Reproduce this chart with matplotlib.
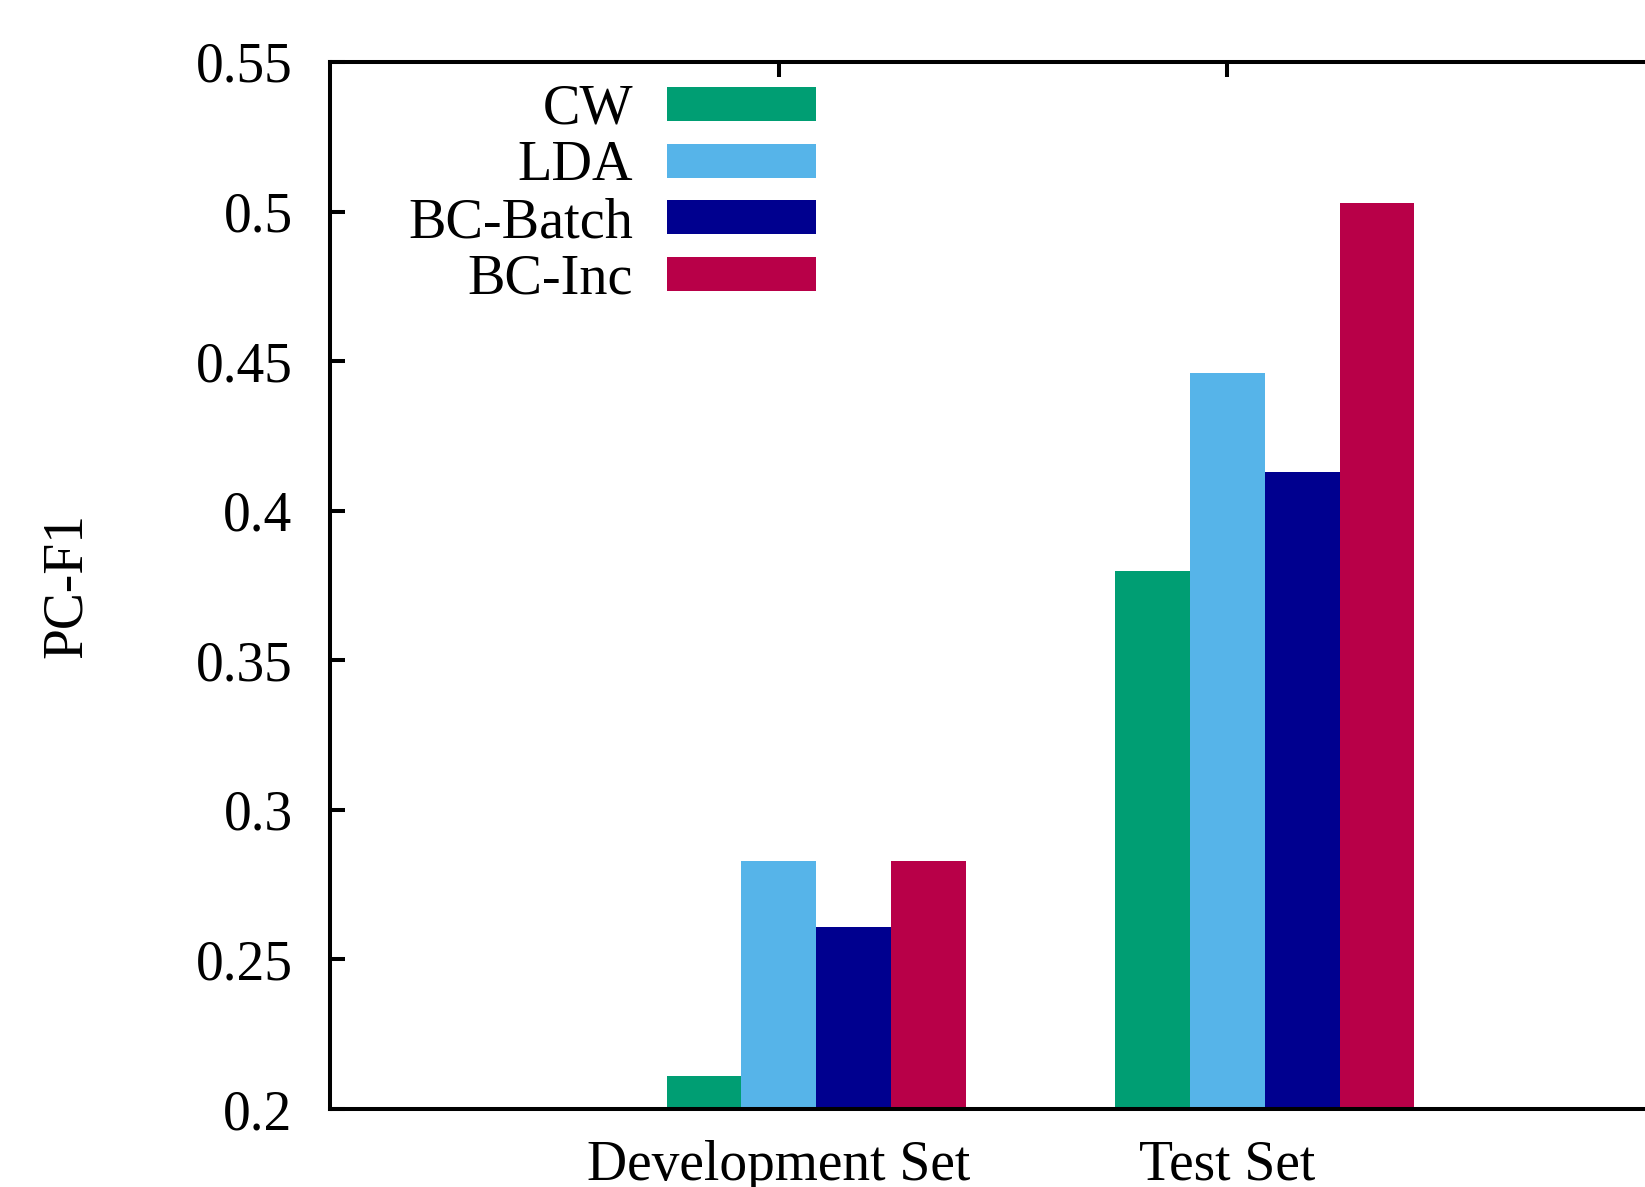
import numpy as np
import matplotlib.pyplot as plt

plt.rcParams['font.family'] = ['Liberation Serif', 'DejaVu Serif']

# data
categories = ['Development Set', 'Test Set']
methods = ['CW', 'LDA', 'BC-Batch', 'BC-Inc']
cw = [0.211, 0.380]
lda = [0.283, 0.446]
bc_batch = [0.261, 0.413]
bc_inc = [0.283, 0.503]
yticks = [0.2, 0.25, 0.3, 0.35, 0.4, 0.45, 0.5, 0.55]

colors = ['#009e73', '#56b4e9', '#00008f', '#b80048']

fig = plt.figure(figsize=(16.45, 11.87), dpi=100)
# axes run past the right and bottom edge like the cropped original
ax = fig.add_axes([330 / 1645, 1 - 1109 / 1187, (1676 - 330) / 1645, (1109 - 62) / 1187])
ax.set_axisbelow(True)  # bars hide the bottom tick marks

x = np.arange(len(categories))
w = 1 / 6
series = [cw, lda, bc_batch, bc_inc]
for i, (name, vals) in enumerate(zip(methods, series)):
    ax.bar(x + (i - 1) * w, vals, width=w, color=colors[i], label=name, linewidth=0)

ax.set_xlim(-1, 2)
ax.set_ylim(0.2, 0.55)
ax.set_xticks(x)
ax.set_xticklabels(categories)
ax.set_yticks(yticks)
ax.set_yticklabels([f'{t:g}' for t in yticks])

for s in ax.spines.values():
    s.set_linewidth(2.9)
ax.tick_params(axis='both', direction='in', length=11, width=2.9, labelsize=40)
ax.tick_params(axis='y', pad=27, right=False)
ax.tick_params(axis='x', pad=22, top=True)

fig.text(67 / 1645, 1 - 585 / 1187, 'PC-F1', rotation=90, ha='center', va='center', fontsize=40)

ax.legend(loc='upper right', bbox_to_anchor=(816 / 1645, 1 - 84 / 1187),
          bbox_transform=fig.transFigure, frameon=False, markerfirst=False,
          fontsize=40.5, handlelength=2.65, handleheight=0.55, handletextpad=0.6,
          labelspacing=0.08, borderpad=0, borderaxespad=0)

plt.savefig('out.png', dpi=100)
